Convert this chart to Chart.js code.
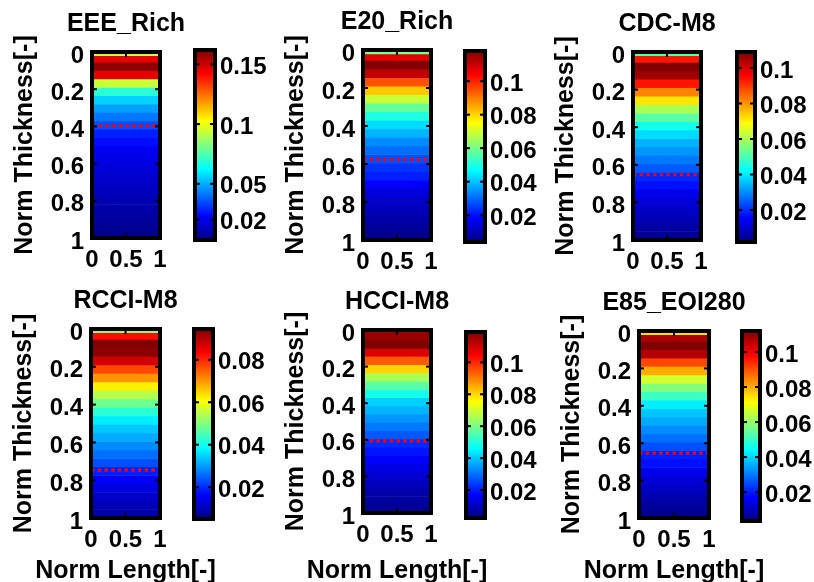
<!DOCTYPE html>
<html>
<head>
<meta charset="utf-8">
<script src="https://cdn.jsdelivr.net/npm/chart.js@4.4.0/dist/chart.umd.min.js"></script>
<style>
html, body { margin: 0; padding: 0; background: #fff; }
#fig { position: relative; width: 814px; height: 582px; overflow: hidden; background: #fff; }
#fig canvas { position: absolute; left: 0; top: 0; }
</style>
</head>
<body>
<div id="fig"></div>
<script>
const W = 814, H = 600;

const titles = ['EEE_Rich', 'E20_Rich', 'CDC-M8', 'RCCI-M8', 'HCCI-M8', 'E85_EOI280'];

// row edges along the normalised thickness (same mesh for every case)
const rowEdges = [0, 0.02, 0.055, 0.10, 0.145, 0.19, 0.235, 0.28, 0.325, 0.37, 0.415, 0.46,
    0.505, 0.55, 0.595, 0.64, 0.685, 0.73, 0.775, 0.82, 0.865, 0.91, 0.955, 1.0];

// value of each row, top to bottom
const rowsEEE = [0.0936, 0.146, 0.160, 0.146, 0.094, 0.069, 0.0556, 0.0478, 0.0416, 0.0348, 0.0275, 0.0245,
    0.0205, 0.019, 0.0173, 0.0157, 0.0141, 0.0125, 0.011, 0.0094, 0.0078, 0.0062, 0.0054];
const rowsE20 = [0.0599, 0.1066, 0.1177, 0.111, 0.0949, 0.0814, 0.0691, 0.0579, 0.0501, 0.0429, 0.0383, 0.0339,
    0.0306, 0.0271, 0.0238, 0.0216, 0.0177, 0.0143, 0.012, 0.0103, 0.0086, 0.0071, 0.0054];
const rowsCDC = [0.0506, 0.0935, 0.1087, 0.1056, 0.0935, 0.082, 0.0716, 0.06, 0.0515, 0.0442, 0.0385, 0.0342,
    0.0311, 0.028, 0.0248, 0.0195, 0.017, 0.0132, 0.0112, 0.0096, 0.0074, 0.006, 0.0041];
const rowsRCCI = [0.0499, 0.0824, 0.0942, 0.0934, 0.0873, 0.0771, 0.0702, 0.0623, 0.0543, 0.0482, 0.0421, 0.0372,
    0.0337, 0.0311, 0.0284, 0.0259, 0.0232, 0.0188, 0.0157, 0.0135, 0.0114, 0.0099, 0.0086];
const rowsHCCI = [0.1164, 0.1164, 0.119, 0.1084, 0.0942, 0.0804, 0.0656, 0.0564, 0.0484, 0.041, 0.0376, 0.0342,
    0.0308, 0.0273, 0.0216, 0.0194, 0.017, 0.0142, 0.0118, 0.0095, 0.0072, 0.006, 0.0048];
const rowsE85 = [0.074, 0.1074, 0.1117, 0.1065, 0.0909, 0.0803, 0.0665, 0.058, 0.0506, 0.0426, 0.0383, 0.0352,
    0.0319, 0.0288, 0.0255, 0.0202, 0.0187, 0.0149, 0.0128, 0.0107, 0.0086, 0.0064, 0.0051];
const rowValues = [rowsEEE, rowsE20, rowsCDC, rowsRCCI, rowsHCCI, rowsE85];

// red dotted line depth
const limitDepth = [0.397, 0.576, 0.653, 0.747, 0.606, 0.653];

// colour bar limits and ticks
const cbarMin = [0.003, 0.004, 0.002, 0.005, 0.0025, 0.0035];
const cbarMax = [0.162, 0.118, 0.109, 0.0945, 0.119, 0.112];
const cbarTicks = [
    [0.02, 0.05, 0.1, 0.15],
    [0.02, 0.04, 0.06, 0.08, 0.1],
    [0.02, 0.04, 0.06, 0.08, 0.1],
    [0.02, 0.04, 0.06, 0.08],
    [0.02, 0.04, 0.06, 0.08, 0.1],
    [0.02, 0.04, 0.06, 0.08, 0.1]
];
const thicknessTicks = [0, 0.2, 0.4, 0.6, 0.8, 1];
const lengthTicks = [0, 0.5, 1];

// plot boxes in page pixels: left, top, right, bottom
const heatBoxes = [
    [92, 52, 160, 238], [363, 50, 431, 240], [633, 52, 701, 240],
    [91, 329, 160, 518], [363, 330, 431, 513], [639, 331, 709, 518]
];
const barBoxes = [
    [195, 50, 215, 240], [465, 51, 485, 242], [737, 52, 755, 242],
    [194, 329, 213, 519], [466, 332, 485, 518], [742, 331, 760, 521]
];

Chart.defaults.font.family = "'Liberation Sans', Arial, sans-serif";
Chart.defaults.font.weight = 'bold';
Chart.defaults.font.size = 24;
Chart.defaults.color = '#000';

const labelFont = { size: 25, weight: 'bold' };

function jet(t) {
    t = Math.min(1, Math.max(0, t));
    const c = v => Math.round(255 * Math.min(1, Math.max(0, v)));
    return `rgb(${c(1.5 - Math.abs(4 * t - 3))},${c(1.5 - Math.abs(4 * t - 2))},${c(1.5 - Math.abs(4 * t - 1))})`;
}

function jetGradient(chart) {
    const a = chart.chartArea;
    if (!a) return null;
    const g = chart.ctx.createLinearGradient(0, a.bottom, 0, a.top);
    [0, 0.125, 0.375, 0.625, 0.875, 1].forEach(s => g.addColorStop(s, jet(s)));
    return g;
}

const fmt = v => String(+Number(v).toFixed(3));

// thick box + short inner tick marks, like the original figure
const framePlugin = {
    id: 'frame',
    afterDraw(chart) {
        const { ctx, chartArea: a } = chart;
        const seg = (x1, y1, x2, y2) => { ctx.beginPath(); ctx.moveTo(x1, y1); ctx.lineTo(x2, y2); ctx.stroke(); };
        ctx.save();
        ctx.strokeStyle = '#000';
        ctx.lineWidth = 2;
        chart.scales.y.ticks.forEach(t => {
            const py = chart.scales.y.getPixelForValue(t.value);
            if (py < a.top + 3 || py > a.bottom - 3) return;
            seg(a.left, py, a.left + 5, py);
            seg(a.right, py, a.right - 5, py);
        });
        if (chart.scales.xl) {
            chart.scales.xl.ticks.forEach(t => {
                const px = chart.scales.xl.getPixelForValue(t.value);
                if (px < a.left + 3 || px > a.right - 3) return;
                seg(px, a.top, px, a.top + 5);
                seg(px, a.bottom, px, a.bottom - 5);
            });
        }
        ctx.lineWidth = 4;
        ctx.strokeRect(a.left, a.top, a.right - a.left, a.bottom - a.top);
        ctx.restore();
    }
};

const hiddenAxis = {
    type: 'linear',
    min: 0,
    max: 1,
    ticks: { display: false },
    grid: { display: false, drawTicks: false },
    border: { display: false }
};

function addCanvas() {
    const c = document.createElement('canvas');
    c.width = W;
    c.height = H;
    document.getElementById('fig').appendChild(c);
    return c;
}

function drawHeat(i) {
    const [l, t, r, b] = heatBoxes[i];
    const bottomRow = i >= 3;
    const tickH = bottomRow ? 38 : 43;
    const labelH = bottomRow ? 586 - b - tickH : 0;
    const below = tickH + labelH;          // space under the plot
    const lo = cbarMin[i], hi = cbarMax[i];

    const datasets = rowValues[i].map((v, k) => ({
        type: 'bar',
        data: [[rowEdges[k], rowEdges[k + 1]]],
        backgroundColor: jet((v - lo) / (hi - lo)),
        xAxisID: 'x',
        yAxisID: 'y'
    }));
    datasets.push({
        type: 'line',
        order: -1,
        data: [{ x: 0, y: limitDepth[i] }, { x: 1, y: limitDepth[i] }],
        xAxisID: 'xl',
        yAxisID: 'y',
        borderColor: '#ff0000',
        borderWidth: 3.2,
        borderDash: [3.4, 3.3],
        borderCapStyle: 'butt',
        pointRadius: 0,
        fill: false
    });

    new Chart(addCanvas(), {
        type: 'bar',
        data: { labels: [''], datasets },
        options: {
            responsive: false,
            animation: false,
            events: [],
            layout: { padding: { left: l - 92, top: t - below, right: W - r - 92, bottom: H - b - below } },
            datasets: { bar: { grouped: false, barPercentage: 1, categoryPercentage: 1 } },
            plugins: {
                legend: { display: false },
                tooltip: { enabled: false },
                title: {
                    display: true,
                    text: titles[i],
                    color: '#000',
                    font: labelFont,
                    padding: { top: below - 43, bottom: 13 }
                }
            },
            scales: {
                x: { display: false },
                xl: {
                    type: 'linear',
                    position: 'bottom',
                    weight: 0,
                    min: 0,
                    max: 1,
                    offset: false,
                    afterBuildTicks: s => { s.ticks = lengthTicks.map(v => ({ value: v })); },
                    afterFit: s => { s.height = tickH; },
                    ticks: { padding: 8, maxRotation: 0, autoSkip: false, callback: fmt },
                    grid: { display: false, drawTicks: false, offset: false },
                    border: { display: false }
                },
                xt: Object.assign({}, hiddenAxis, {
                    position: 'bottom',
                    fullSize: true,
                    weight: 1,
                    display: bottomRow,
                    afterFit: s => { s.height = labelH; },
                    title: { display: true, text: 'Norm Length[-]', font: labelFont, padding: { top: 0, bottom: 0 } }
                }),
                y: {
                    min: 0,
                    max: 1,
                    reverse: true,
                    weight: 0,
                    beginAtZero: false,
                    afterBuildTicks: s => { s.ticks = thicknessTicks.map(v => ({ value: v })); },
                    afterFit: s => { s.width = 52; },
                    ticks: { padding: 8, labelOffset: 4, autoSkip: false, callback: fmt },
                    grid: { display: false, drawTicks: false },
                    border: { display: false }
                },
                yt: Object.assign({}, hiddenAxis, {
                    position: 'left',
                    fullSize: true,
                    weight: 1,
                    afterFit: s => { s.width = 40; },
                    title: { display: true, text: 'Norm Thickness[-]', font: labelFont, padding: { top: 10, bottom: 0 } }
                }),
                yr: Object.assign({}, hiddenAxis, {
                    position: 'right',
                    afterFit: s => { s.width = 92; }
                })
            }
        },
        plugins: [framePlugin]
    });
}

function drawColorbar(i) {
    const [l, t, r, b] = barBoxes[i];
    const lo = cbarMin[i], hi = cbarMax[i];

    new Chart(addCanvas(), {
        type: 'bar',
        data: {
            labels: [''],
            datasets: [{
                data: [[lo, hi]],
                backgroundColor: ctx => jetGradient(ctx.chart),
                barPercentage: 1,
                categoryPercentage: 1
            }]
        },
        options: {
            responsive: false,
            animation: false,
            events: [],
            layout: { padding: { left: l, top: t, right: W - r - 55, bottom: H - b } },
            plugins: { legend: { display: false }, tooltip: { enabled: false } },
            scales: {
                x: { display: false },
                y: {
                    position: 'right',
                    min: lo,
                    max: hi,
                    beginAtZero: false,
                    afterBuildTicks: s => { s.ticks = cbarTicks[i].map(v => ({ value: v })); },
                    afterFit: s => { s.width = 55; },
                    ticks: { padding: 5, labelOffset: 3, autoSkip: false, callback: fmt },
                    grid: { display: false, drawTicks: false },
                    border: { display: false }
                }
            }
        },
        plugins: [framePlugin]
    });
}

for (let i = 0; i < 6; i++) {
    drawHeat(i);
    drawColorbar(i);
}
</script>
</body>
</html>
